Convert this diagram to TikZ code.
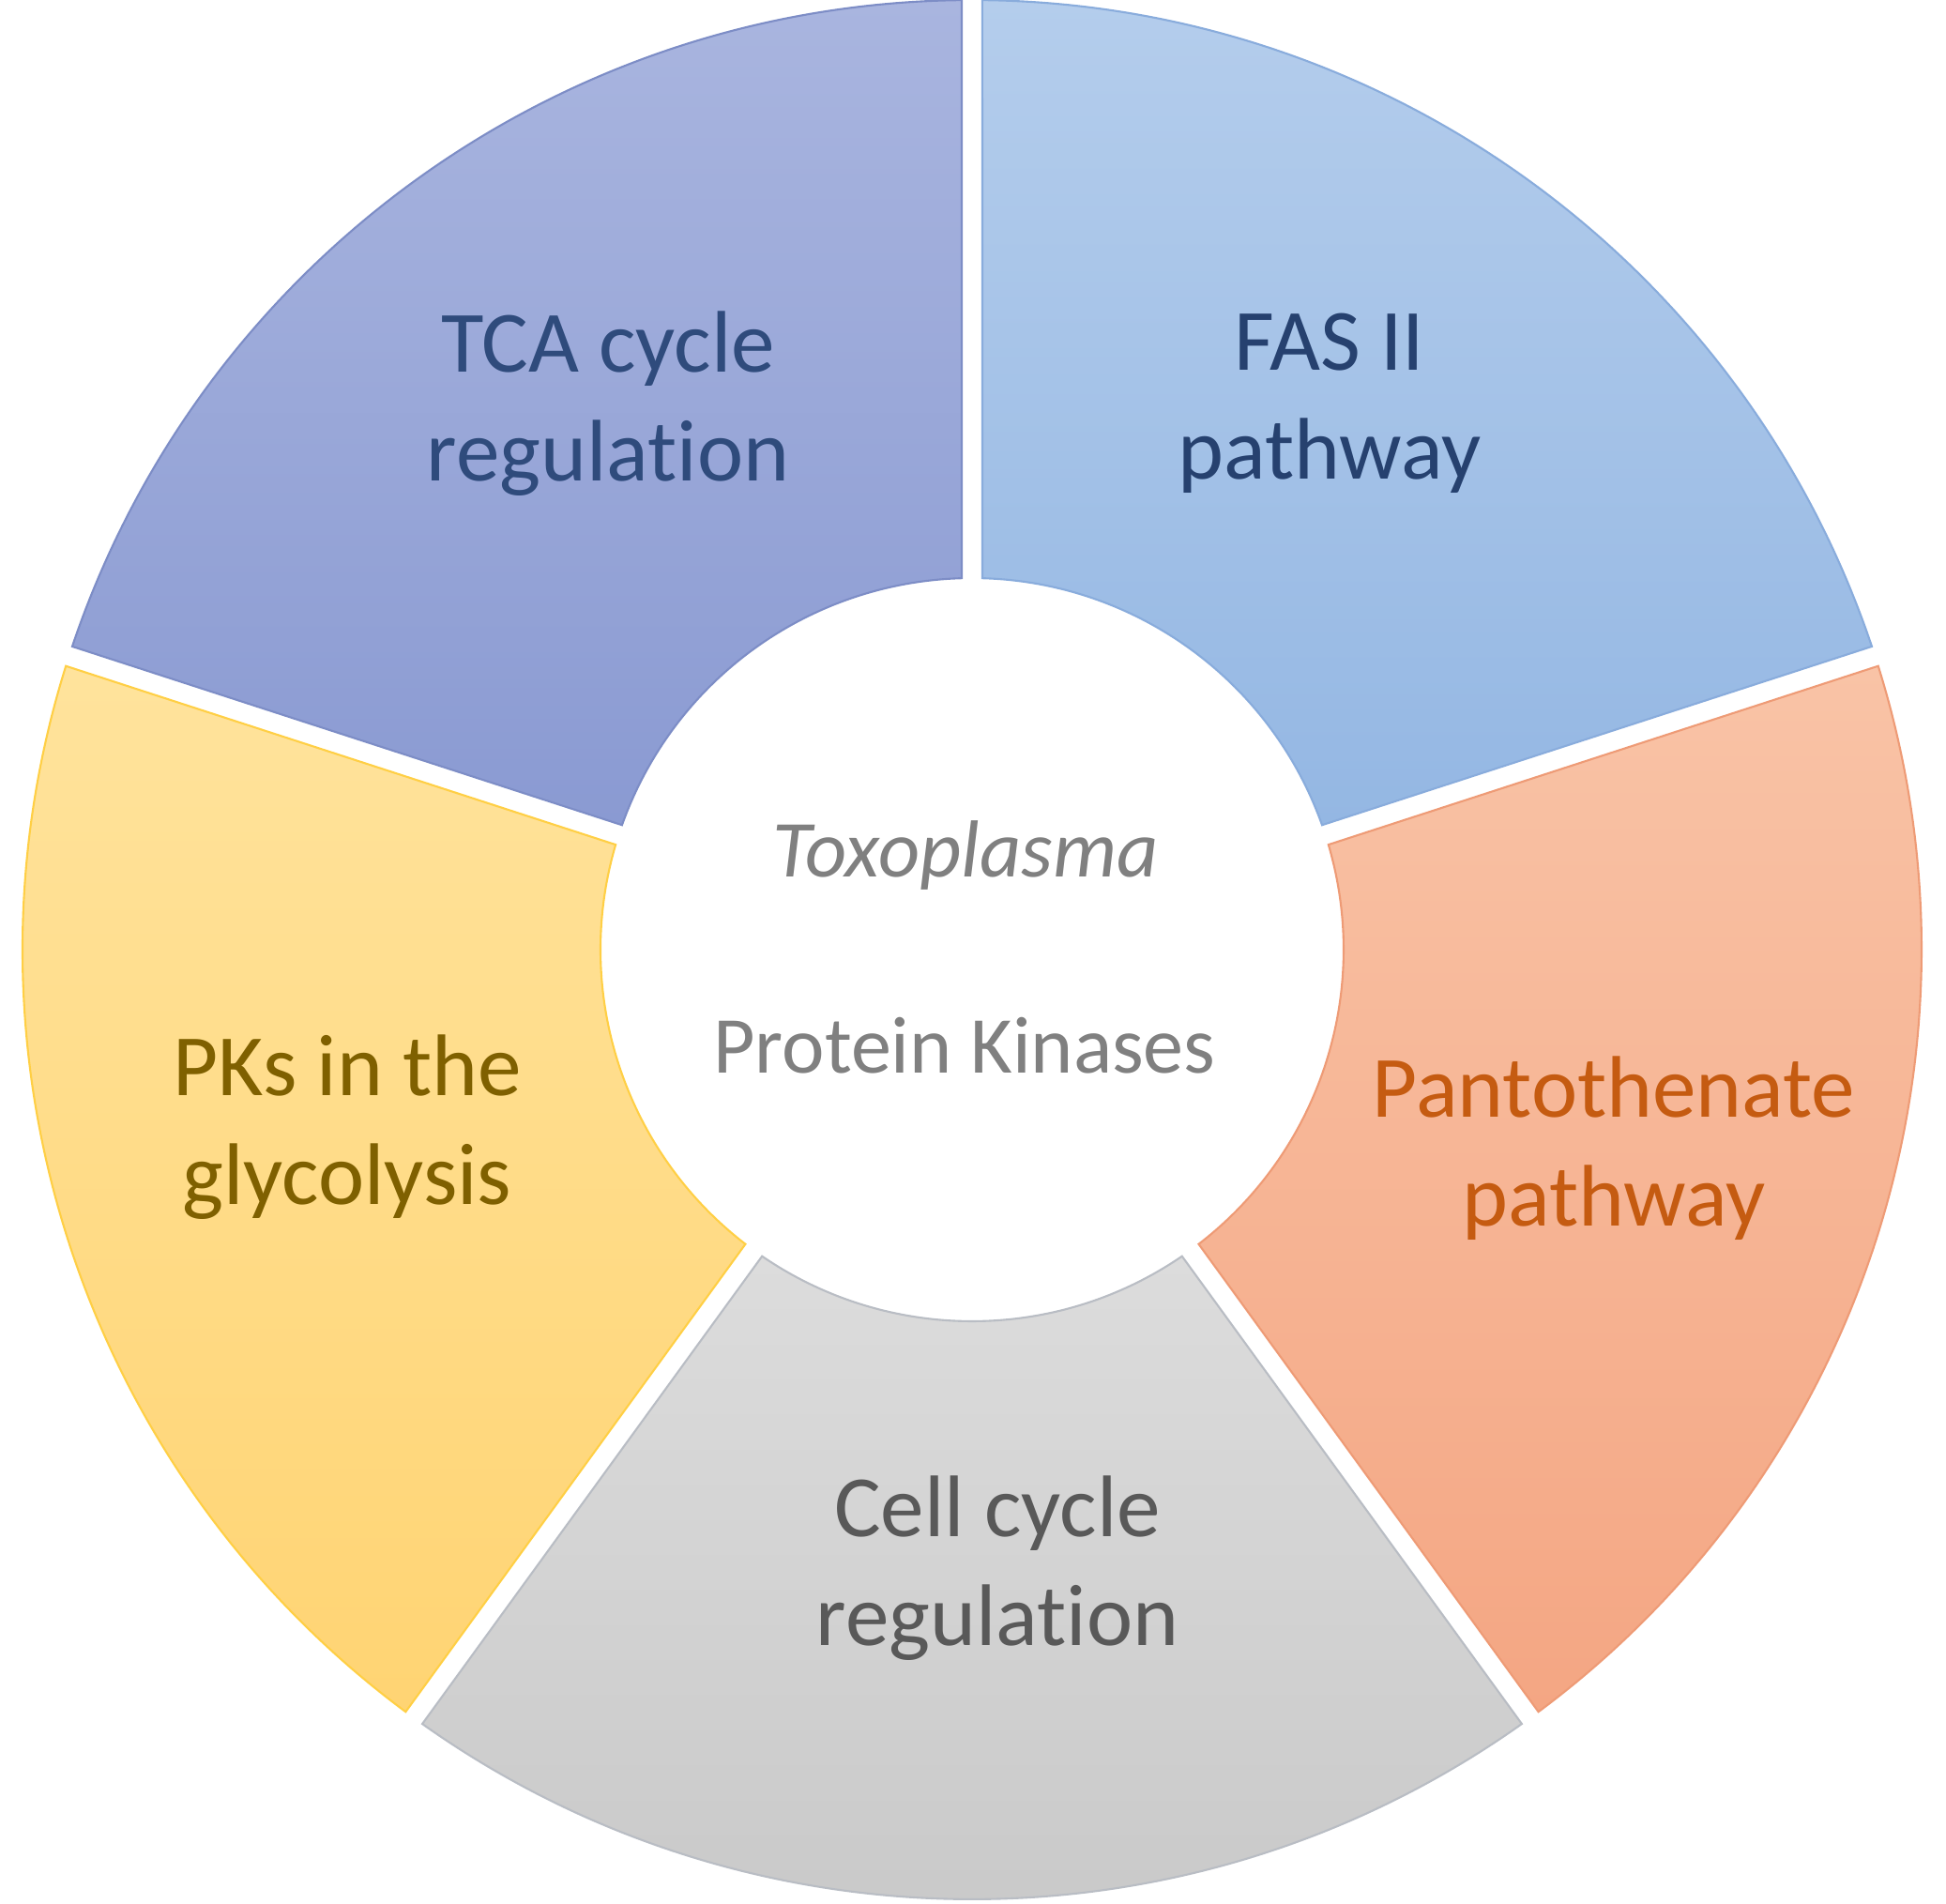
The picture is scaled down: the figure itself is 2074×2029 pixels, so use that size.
\documentclass[tikz,border=0pt]{standalone}
\usepackage{fontspec}
\setmainfont{Carlito}[Ligatures=NoCommon]

\definecolor{tcatop}{HTML}{A9B5DF}
\definecolor{tcabot}{HTML}{8A9AD2}
\definecolor{tcaline}{HTML}{7D8DC6}
\definecolor{tcatext}{HTML}{2F4B7C}
\definecolor{fastop}{HTML}{B4CDEC}
\definecolor{fasbot}{HTML}{94B7E3}
\definecolor{fasline}{HTML}{89ACDC}
\definecolor{fastext}{HTML}{26416F}
\definecolor{pantop}{HTML}{F9C3A6}
\definecolor{panbot}{HTML}{F4A683}
\definecolor{panline}{HTML}{EE9B76}
\definecolor{pantext}{HTML}{C55B11}
\definecolor{celltop}{HTML}{DCDCDC}
\definecolor{cellbot}{HTML}{C8C8C8}
\definecolor{cellline}{HTML}{B9BDC4}
\definecolor{celltext}{HTML}{595959}
\definecolor{pkstop}{HTML}{FFE39C}
\definecolor{pksbot}{HTML}{FFD473}
\definecolor{pksline}{HTML}{FFCF45}
\definecolor{pkstext}{HTML}{7F6000}
\definecolor{midtext}{HTML}{808080}

\begin{document}
\begin{tikzpicture}[x=0.01cm,y=0.01cm,
    ring/.style={line width=0.6pt},
    tcapart/.style={ring,top color=tcatop,bottom color=tcabot,draw=tcaline},
    faspart/.style={ring,top color=fastop,bottom color=fasbot,draw=fasline},
    panpart/.style={ring,top color=pantop,bottom color=panbot,draw=panline},
    cellpart/.style={ring,top color=celltop,bottom color=cellbot,draw=cellline},
    pkspart/.style={ring,top color=pkstop,bottom color=pksbot,draw=pksline}]
    \useasboundingbox (-1036,-1017) rectangle (1038,1012);

    % ring segments
    \path[faspart] (18.62:1012) arc[start angle=18.62,end angle=89.38,radius=1012]
        -- (88.41:396) arc[start angle=88.41,end angle=19.59,radius=396] -- cycle;
    \path[tcapart] (90.62:1012) arc[start angle=90.62,end angle=161.38,radius=1012]
        -- (160.41:396) arc[start angle=160.41,end angle=91.59,radius=396] -- cycle;
    \path[pkspart] (162.62:1012) arc[start angle=162.62,end angle=233.38,radius=1012]
        -- (232.41:396) arc[start angle=232.41,end angle=163.59,radius=396] -- cycle;
    \path[cellpart] (234.62:1012) arc[start angle=234.62,end angle=305.38,radius=1012]
        -- (304.41:396) arc[start angle=304.41,end angle=235.59,radius=396] -- cycle;
    \path[panpart] (306.62:1012) arc[start angle=306.62,end angle=377.38,radius=1012]
        -- (376.41:396) arc[start angle=376.41,end angle=307.59,radius=396] -- cycle;

    % labels
    \begin{scope}[every node/.style={align=center,font=\fontsize{26.5}{33}\selectfont}]
        \node[text=tcatext] (tca) at (-388,582) {TCA cycle\\regulation};
        \node[text=fastext] (fas) at (381,582) {FAS II\\pathway};
        \node[text=pantext] (panto) at (684,-212) {Pantothenate\\pathway};
        \node[text=celltext] (cellcyc) at (27,-659) {Cell cycle\\regulation};
        \node[text=pkstext] (pks) at (-666,-189) {PKs in the\\glycolysis};
    \end{scope}
    \begin{scope}[every node/.style={text=midtext,font=\fontsize{24.5}{30}\selectfont}]
        \node[anchor=base] (toxo) at (-7,78) {\itshape Toxoplasma};
        \node[anchor=base] (pk) at (-8,-131) {Protein Kinases};
    \end{scope}
\end{tikzpicture}
\end{document}
